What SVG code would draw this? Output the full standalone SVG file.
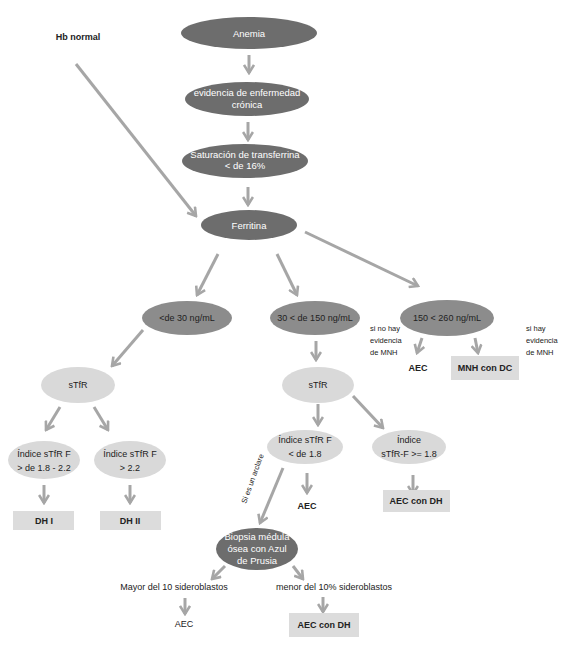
<svg xmlns="http://www.w3.org/2000/svg" width="567" height="645" viewBox="0 0 567 645">
<style>
text{font-family:"Liberation Sans",Arial,sans-serif;font-size:9px;text-anchor:middle;fill:#222}
.dk{fill:#6d6d6d}
.md{fill:#8c8c8c}
.lt{fill:#d9d9d9}
.bx{fill:#dcdcdc}
.w{fill:#fff;font-size:9.5px}
.b{font-weight:bold}
.s{font-size:7.5px;text-anchor:start}
.c line{stroke:#a6a6a6;stroke-width:3;marker-end:url(#ah)}
</style>
<defs>
<marker id="ah" markerUnits="userSpaceOnUse" viewBox="0 0 12 12" refX="10" refY="6" markerWidth="12" markerHeight="12" orient="auto">
<path d="M2,1 L10,6 L2,11" fill="none" stroke="#a6a6a6" stroke-width="2.6"/>
</marker>
</defs>
<rect width="567" height="645" fill="#fff"/>
<g class="c">
<line x1="249" y1="55" x2="249" y2="73"/>
<line x1="248" y1="122" x2="248" y2="140"/>
<line x1="248" y1="187" x2="248" y2="205"/>
<line x1="76" y1="64" x2="196" y2="216"/>
<line x1="218" y1="254" x2="197" y2="295"/>
<line x1="277" y1="254" x2="297" y2="295"/>
<line x1="305" y1="232" x2="418" y2="286"/>
<line x1="143" y1="330" x2="112" y2="366"/>
<line x1="316" y1="341" x2="316" y2="360"/>
<line x1="422" y1="338" x2="417" y2="353"/>
<line x1="475" y1="338" x2="478" y2="353"/>
<line x1="60" y1="407" x2="46" y2="430"/>
<line x1="94" y1="407" x2="108" y2="430"/>
<line x1="318" y1="404" x2="318" y2="425"/>
<line x1="353" y1="396" x2="383" y2="428"/>
<line x1="44" y1="485" x2="44" y2="503"/>
<line x1="130" y1="485" x2="130" y2="503"/>
<line x1="307" y1="473" x2="307" y2="493"/>
<line x1="413" y1="475" x2="413" y2="494"/>
<line x1="283" y1="468" x2="260" y2="523"/>
<line x1="225" y1="566" x2="212" y2="579"/>
<line x1="293" y1="566" x2="303" y2="579"/>
<line x1="185" y1="598" x2="185" y2="614"/>
<line x1="323" y1="597" x2="323" y2="612"/>
</g>
<g id="hb"><text class="b" x="78" y="40">Hb normal</text></g>
<g id="anemia"><ellipse class="dk" cx="249" cy="33" rx="68" ry="16"/><text class="w" x="249" y="37">Anemia</text></g>
<g id="evidencia"><ellipse class="dk" cx="247" cy="99" rx="62" ry="17"/><text class="w" x="247" y="96">evidencia de enfermedad</text><text class="w" x="247" y="108">crónica</text></g>
<g id="saturacion"><ellipse class="dk" cx="245" cy="161" rx="63" ry="17"/><text class="w" x="245" y="158">Saturación de transferrina</text><text class="w" x="245" y="169">&lt; de 16%</text></g>
<g id="ferritina"><ellipse class="dk" cx="249" cy="225" rx="48" ry="15"/><text class="w" x="249" y="229">Ferritina</text></g>
<g id="f30"><ellipse class="md" cx="187" cy="318" rx="45" ry="17"/><text x="187" y="321">&lt;de 30 ng/mL</text></g>
<g id="f150"><ellipse class="md" cx="315" cy="318" rx="45" ry="17"/><text x="315" y="321">30 &lt; de 150 ng/mL</text></g>
<g id="f260"><ellipse class="md" cx="447" cy="318" rx="47" ry="18"/><text x="447" y="321">150 &lt; 260 ng/mL</text></g>
<g id="nota-no"><text class="s" x="370" y="331">si no hay</text><text class="s" x="370" y="343">evidencia</text><text class="s" x="370" y="355">de MNH</text></g>
<g id="nota-si"><text class="s" x="526" y="331">si hay</text><text class="s" x="526" y="343">evidencia</text><text class="s" x="526" y="355">de MNH</text></g>
<g id="aec1"><text class="b" x="418" y="371">AEC</text></g>
<g id="mnh"><rect class="bx" x="451" y="356" width="68" height="24"/><text class="b" x="485" y="371">MNH con DC</text></g>
<g id="stfr1"><ellipse class="lt" cx="78" cy="385" rx="37" ry="18"/><text x="78" y="388">sTfR</text></g>
<g id="stfr2"><ellipse class="lt" cx="318" cy="385" rx="36" ry="18"/><text x="318" y="388">sTfR</text></g>
<g id="ind1"><ellipse class="lt" cx="44" cy="460" rx="36" ry="19"/><text x="44" y="457">Índice sTfR F</text><text x="44" y="471">&gt; de 1.8 - 2.2</text></g>
<g id="ind2"><ellipse class="lt" cx="130" cy="460" rx="36" ry="19"/><text x="130" y="457">Índice sTfR F</text><text x="130" y="471">&gt;  2.2</text></g>
<g id="dh1"><rect class="bx" x="13" y="511" width="61" height="19"/><text class="b" x="44" y="524">DH I</text></g>
<g id="dh2"><rect class="bx" x="100" y="511" width="61" height="19"/><text class="b" x="130" y="524">DH II</text></g>
<g id="ind3"><ellipse class="lt" cx="305" cy="447" rx="38" ry="17"/><text x="305" y="443">Índice sTfR F</text><text x="305" y="457">&lt; de 1.8</text></g>
<g id="ind4"><ellipse class="lt" cx="409" cy="447" rx="37" ry="17"/><text x="409" y="443">Índice</text><text x="409" y="457">sTfR-F &gt;= 1.8</text></g>
<g id="aec2"><text class="b" x="307" y="509">AEC</text></g>
<g id="aecdh1"><rect class="bx" x="383" y="490" width="67" height="22"/><text class="b" x="416" y="504">AEC con DH</text></g>
<g id="nota-rot"><text class="s" transform="translate(246,504) rotate(-70)" style="font-size:7.5px">Si es un arclare</text></g>
<g id="biopsia"><ellipse class="dk" cx="257" cy="549" rx="41" ry="21"/><text class="w" x="257" y="540">Biopsia médula</text><text class="w" x="257" y="552">ósea con Azul</text><text class="w" x="257" y="564">de Prusia</text></g>
<g id="mayor"><text x="174" y="590">Mayor del 10 sideroblastos</text></g>
<g id="menor"><text x="334" y="590">menor del 10% sideroblastos</text></g>
<g id="aec3"><text x="184" y="627">AEC</text></g>
<g id="aecdh2"><rect class="bx" x="289" y="613" width="70" height="24"/><text class="b" x="324" y="628">AEC con DH</text></g>
</svg>
